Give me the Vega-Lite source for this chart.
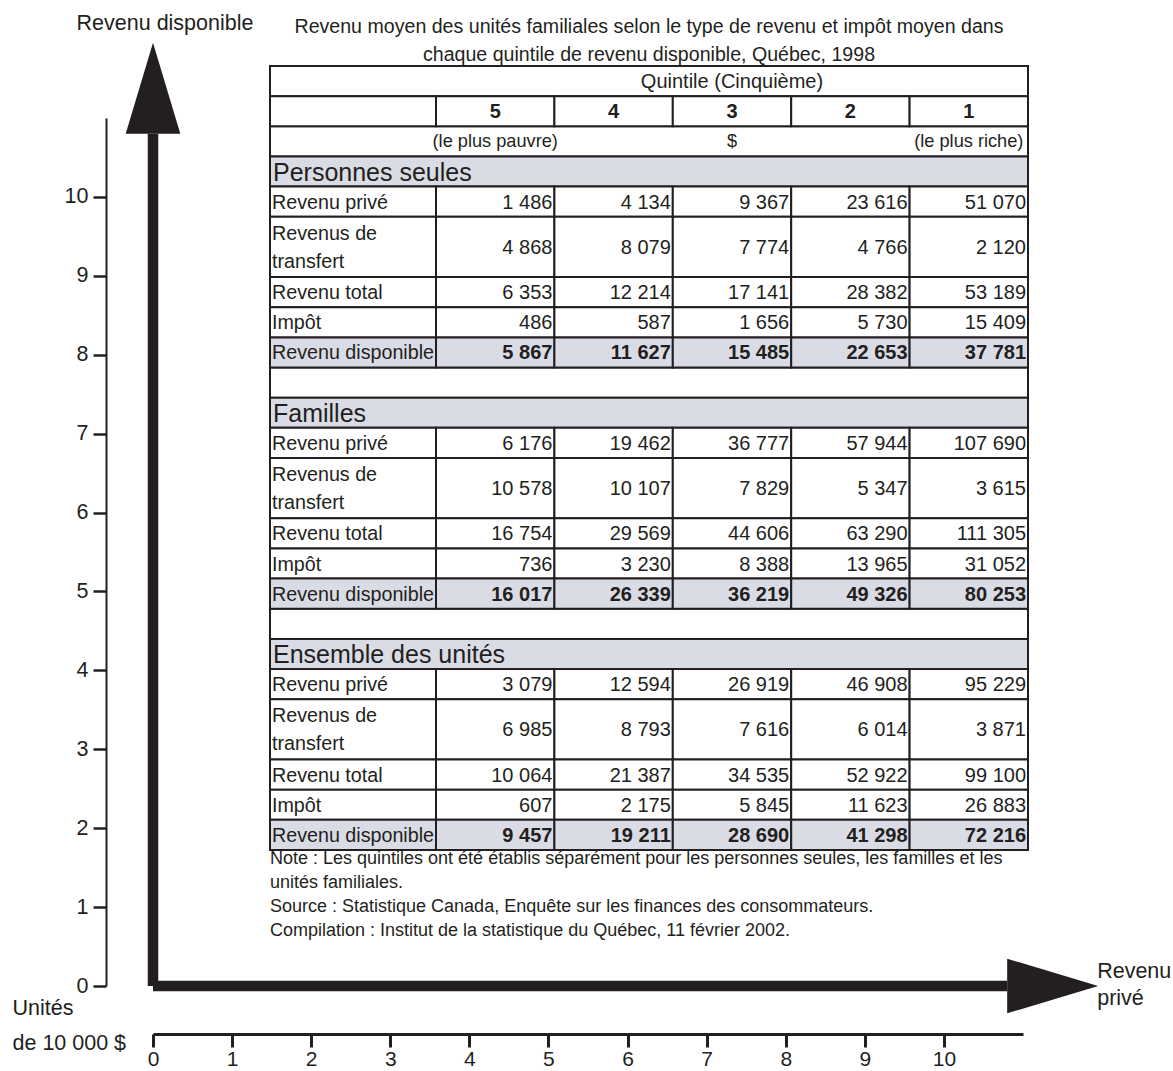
{
  "$schema": "https://vega.github.io/schema/vega-lite/v6.json",
  "width": 870,
  "height": 868,
  "autosize": "none",
  "padding": {"left": 153, "top": 118, "right": 150, "bottom": 85},
  "background": "white",
  "config": {
    "view": {"stroke": null},
    "locale": {"number": {"decimal": ",", "thousands": "\u00a0", "grouping": [3], "currency": ["", "\u00a0$"]}},
    "text": {"font": "Liberation Sans", "fontSize": 20, "color": "#231f20"}
  },
  "datasets": {
    "fleches": [
      {"axe": "Revenu disponible", "x": 0, "y": 0, "x2": 0, "y2": 10.8},
      {"axe": "Revenu privé", "x": 0, "y": 0, "x2": 10.8, "y2": 0}
    ],
    "titre": [
      {"titre": ["Revenu moyen des unités familiales selon le type de revenu et impôt moyen dans", "chaque quintile de revenu disponible, Québec, 1998"]}
    ],
    "notes": [
      {"notes": ["Note : Les quintiles ont été établis séparément pour les personnes seules, les familles et les", "unités familiales.", "Source : Statistique Canada, Enquête sur les finances des consommateurs.", "Compilation : Institut de la statistique du Québec, 11 février 2002."]}
    ],
    "bandeaux": [
      {"l": 0}, {"l": 2},
      {"l": 3, "sec": "Personnes seules"},
      {"l": 10},
      {"l": 11, "sec": "Familles"},
      {"l": 18},
      {"l": 19, "sec": "Ensemble des unités"}
    ],
    "entetes": [
      {"l": 0, "q": "3", "texte": "Quintile (Cinquième)"},
      {"l": 1, "q": "5", "texte": "5"},
      {"l": 1, "q": "4", "texte": "4"},
      {"l": 1, "q": "3", "texte": "3"},
      {"l": 1, "q": "2", "texte": "2"},
      {"l": 1, "q": "1", "texte": "1"},
      {"l": 2, "q": "5", "texte": "(le plus pauvre)"},
      {"l": 2, "q": "3", "texte": "$"},
      {"l": 2, "q": "1", "texte": "(le plus riche)"}
    ],
    "libelles": [
      {"l": 1, "l2": 1},
      {"sec": "Personnes seules", "item": "Revenu privé", "l": 4, "l2": 4},
      {"sec": "Personnes seules", "item": "Revenus de transfert", "l": 5, "l2": 6},
      {"sec": "Personnes seules", "item": "Revenu total", "l": 7, "l2": 7},
      {"sec": "Personnes seules", "item": "Impôt", "l": 8, "l2": 8},
      {"sec": "Personnes seules", "item": "Revenu disponible", "l": 9, "l2": 9},
      {"sec": "Familles", "item": "Revenu privé", "l": 12, "l2": 12},
      {"sec": "Familles", "item": "Revenus de transfert", "l": 13, "l2": 14},
      {"sec": "Familles", "item": "Revenu total", "l": 15, "l2": 15},
      {"sec": "Familles", "item": "Impôt", "l": 16, "l2": 16},
      {"sec": "Familles", "item": "Revenu disponible", "l": 17, "l2": 17},
      {"sec": "Ensemble des unités", "item": "Revenu privé", "l": 20, "l2": 20},
      {"sec": "Ensemble des unités", "item": "Revenus de transfert", "l": 21, "l2": 22},
      {"sec": "Ensemble des unités", "item": "Revenu total", "l": 23, "l2": 23},
      {"sec": "Ensemble des unités", "item": "Impôt", "l": 24, "l2": 24},
      {"sec": "Ensemble des unités", "item": "Revenu disponible", "l": 25, "l2": 25}
    ],
    "valeurs": [
      {"sec": "Personnes seules", "item": "Revenu privé", "q": "5", "v": 1486, "l": 4, "l2": 4},
      {"sec": "Personnes seules", "item": "Revenu privé", "q": "4", "v": 4134, "l": 4, "l2": 4},
      {"sec": "Personnes seules", "item": "Revenu privé", "q": "3", "v": 9367, "l": 4, "l2": 4},
      {"sec": "Personnes seules", "item": "Revenu privé", "q": "2", "v": 23616, "l": 4, "l2": 4},
      {"sec": "Personnes seules", "item": "Revenu privé", "q": "1", "v": 51070, "l": 4, "l2": 4},
      {"sec": "Personnes seules", "item": "Revenus de transfert", "q": "5", "v": 4868, "l": 5, "l2": 6},
      {"sec": "Personnes seules", "item": "Revenus de transfert", "q": "4", "v": 8079, "l": 5, "l2": 6},
      {"sec": "Personnes seules", "item": "Revenus de transfert", "q": "3", "v": 7774, "l": 5, "l2": 6},
      {"sec": "Personnes seules", "item": "Revenus de transfert", "q": "2", "v": 4766, "l": 5, "l2": 6},
      {"sec": "Personnes seules", "item": "Revenus de transfert", "q": "1", "v": 2120, "l": 5, "l2": 6},
      {"sec": "Personnes seules", "item": "Revenu total", "q": "5", "v": 6353, "l": 7, "l2": 7},
      {"sec": "Personnes seules", "item": "Revenu total", "q": "4", "v": 12214, "l": 7, "l2": 7},
      {"sec": "Personnes seules", "item": "Revenu total", "q": "3", "v": 17141, "l": 7, "l2": 7},
      {"sec": "Personnes seules", "item": "Revenu total", "q": "2", "v": 28382, "l": 7, "l2": 7},
      {"sec": "Personnes seules", "item": "Revenu total", "q": "1", "v": 53189, "l": 7, "l2": 7},
      {"sec": "Personnes seules", "item": "Impôt", "q": "5", "v": 486, "l": 8, "l2": 8},
      {"sec": "Personnes seules", "item": "Impôt", "q": "4", "v": 587, "l": 8, "l2": 8},
      {"sec": "Personnes seules", "item": "Impôt", "q": "3", "v": 1656, "l": 8, "l2": 8},
      {"sec": "Personnes seules", "item": "Impôt", "q": "2", "v": 5730, "l": 8, "l2": 8},
      {"sec": "Personnes seules", "item": "Impôt", "q": "1", "v": 15409, "l": 8, "l2": 8},
      {"sec": "Personnes seules", "item": "Revenu disponible", "q": "5", "v": 5867, "l": 9, "l2": 9},
      {"sec": "Personnes seules", "item": "Revenu disponible", "q": "4", "v": 11627, "l": 9, "l2": 9},
      {"sec": "Personnes seules", "item": "Revenu disponible", "q": "3", "v": 15485, "l": 9, "l2": 9},
      {"sec": "Personnes seules", "item": "Revenu disponible", "q": "2", "v": 22653, "l": 9, "l2": 9},
      {"sec": "Personnes seules", "item": "Revenu disponible", "q": "1", "v": 37781, "l": 9, "l2": 9},
      {"sec": "Familles", "item": "Revenu privé", "q": "5", "v": 6176, "l": 12, "l2": 12},
      {"sec": "Familles", "item": "Revenu privé", "q": "4", "v": 19462, "l": 12, "l2": 12},
      {"sec": "Familles", "item": "Revenu privé", "q": "3", "v": 36777, "l": 12, "l2": 12},
      {"sec": "Familles", "item": "Revenu privé", "q": "2", "v": 57944, "l": 12, "l2": 12},
      {"sec": "Familles", "item": "Revenu privé", "q": "1", "v": 107690, "l": 12, "l2": 12},
      {"sec": "Familles", "item": "Revenus de transfert", "q": "5", "v": 10578, "l": 13, "l2": 14},
      {"sec": "Familles", "item": "Revenus de transfert", "q": "4", "v": 10107, "l": 13, "l2": 14},
      {"sec": "Familles", "item": "Revenus de transfert", "q": "3", "v": 7829, "l": 13, "l2": 14},
      {"sec": "Familles", "item": "Revenus de transfert", "q": "2", "v": 5347, "l": 13, "l2": 14},
      {"sec": "Familles", "item": "Revenus de transfert", "q": "1", "v": 3615, "l": 13, "l2": 14},
      {"sec": "Familles", "item": "Revenu total", "q": "5", "v": 16754, "l": 15, "l2": 15},
      {"sec": "Familles", "item": "Revenu total", "q": "4", "v": 29569, "l": 15, "l2": 15},
      {"sec": "Familles", "item": "Revenu total", "q": "3", "v": 44606, "l": 15, "l2": 15},
      {"sec": "Familles", "item": "Revenu total", "q": "2", "v": 63290, "l": 15, "l2": 15},
      {"sec": "Familles", "item": "Revenu total", "q": "1", "v": 111305, "l": 15, "l2": 15},
      {"sec": "Familles", "item": "Impôt", "q": "5", "v": 736, "l": 16, "l2": 16},
      {"sec": "Familles", "item": "Impôt", "q": "4", "v": 3230, "l": 16, "l2": 16},
      {"sec": "Familles", "item": "Impôt", "q": "3", "v": 8388, "l": 16, "l2": 16},
      {"sec": "Familles", "item": "Impôt", "q": "2", "v": 13965, "l": 16, "l2": 16},
      {"sec": "Familles", "item": "Impôt", "q": "1", "v": 31052, "l": 16, "l2": 16},
      {"sec": "Familles", "item": "Revenu disponible", "q": "5", "v": 16017, "l": 17, "l2": 17},
      {"sec": "Familles", "item": "Revenu disponible", "q": "4", "v": 26339, "l": 17, "l2": 17},
      {"sec": "Familles", "item": "Revenu disponible", "q": "3", "v": 36219, "l": 17, "l2": 17},
      {"sec": "Familles", "item": "Revenu disponible", "q": "2", "v": 49326, "l": 17, "l2": 17},
      {"sec": "Familles", "item": "Revenu disponible", "q": "1", "v": 80253, "l": 17, "l2": 17},
      {"sec": "Ensemble des unités", "item": "Revenu privé", "q": "5", "v": 3079, "l": 20, "l2": 20},
      {"sec": "Ensemble des unités", "item": "Revenu privé", "q": "4", "v": 12594, "l": 20, "l2": 20},
      {"sec": "Ensemble des unités", "item": "Revenu privé", "q": "3", "v": 26919, "l": 20, "l2": 20},
      {"sec": "Ensemble des unités", "item": "Revenu privé", "q": "2", "v": 46908, "l": 20, "l2": 20},
      {"sec": "Ensemble des unités", "item": "Revenu privé", "q": "1", "v": 95229, "l": 20, "l2": 20},
      {"sec": "Ensemble des unités", "item": "Revenus de transfert", "q": "5", "v": 6985, "l": 21, "l2": 22},
      {"sec": "Ensemble des unités", "item": "Revenus de transfert", "q": "4", "v": 8793, "l": 21, "l2": 22},
      {"sec": "Ensemble des unités", "item": "Revenus de transfert", "q": "3", "v": 7616, "l": 21, "l2": 22},
      {"sec": "Ensemble des unités", "item": "Revenus de transfert", "q": "2", "v": 6014, "l": 21, "l2": 22},
      {"sec": "Ensemble des unités", "item": "Revenus de transfert", "q": "1", "v": 3871, "l": 21, "l2": 22},
      {"sec": "Ensemble des unités", "item": "Revenu total", "q": "5", "v": 10064, "l": 23, "l2": 23},
      {"sec": "Ensemble des unités", "item": "Revenu total", "q": "4", "v": 21387, "l": 23, "l2": 23},
      {"sec": "Ensemble des unités", "item": "Revenu total", "q": "3", "v": 34535, "l": 23, "l2": 23},
      {"sec": "Ensemble des unités", "item": "Revenu total", "q": "2", "v": 52922, "l": 23, "l2": 23},
      {"sec": "Ensemble des unités", "item": "Revenu total", "q": "1", "v": 99100, "l": 23, "l2": 23},
      {"sec": "Ensemble des unités", "item": "Impôt", "q": "5", "v": 607, "l": 24, "l2": 24},
      {"sec": "Ensemble des unités", "item": "Impôt", "q": "4", "v": 2175, "l": 24, "l2": 24},
      {"sec": "Ensemble des unités", "item": "Impôt", "q": "3", "v": 5845, "l": 24, "l2": 24},
      {"sec": "Ensemble des unités", "item": "Impôt", "q": "2", "v": 11623, "l": 24, "l2": 24},
      {"sec": "Ensemble des unités", "item": "Impôt", "q": "1", "v": 26883, "l": 24, "l2": 24},
      {"sec": "Ensemble des unités", "item": "Revenu disponible", "q": "5", "v": 9457, "l": 25, "l2": 25},
      {"sec": "Ensemble des unités", "item": "Revenu disponible", "q": "4", "v": 19211, "l": 25, "l2": 25},
      {"sec": "Ensemble des unités", "item": "Revenu disponible", "q": "3", "v": 28690, "l": 25, "l2": 25},
      {"sec": "Ensemble des unités", "item": "Revenu disponible", "q": "2", "v": 41298, "l": 25, "l2": 25},
      {"sec": "Ensemble des unités", "item": "Revenu disponible", "q": "1", "v": 72216, "l": 25, "l2": 25}
    ]
  },
  "resolve": {"scale": {"x": "independent", "y": "independent", "shape": "independent", "size": "independent"}},
  "layer": [
    {
      "data": {"name": "fleches"},
      "mark": {"type": "rule", "strokeWidth": 10.5, "color": "#231f20", "strokeCap": "butt"},
      "encoding": {
        "x": {"field": "x", "type": "quantitative", "scale": {"domain": [0, 11], "nice": false, "zero": false},
          "axis": {"orient": "bottom", "offset": 48, "values": [0, 1, 2, 3, 4, 5, 6, 7, 8, 9, 10], "format": "d", "grid": false,
            "domainColor": "#231f20", "domainWidth": 3, "tickColor": "#231f20", "tickWidth": 3, "tickSize": 13,
            "labelFont": "Liberation Sans", "labelFontSize": 21, "labelColor": "#231f20", "labelPadding": 1, "labelAngle": 0, "labelFlush": false, "labelOverlap": false,
            "title": ["Unités", "de 10 000 $"], "titleFont": "Liberation Sans", "titleFontSize": 21.5, "titleFontWeight": "normal", "titleColor": "#231f20",
            "titleAngle": 0, "titleAlign": "left", "titleBaseline": "alphabetic", "titleX": -141, "titleY": -20, "titleLineHeight": 35}},
        "y": {"field": "y", "type": "quantitative", "scale": {"domain": [0, 11], "nice": false, "zero": false},
          "axis": {"orient": "left", "offset": 47, "values": [0, 1, 2, 3, 4, 5, 6, 7, 8, 9, 10], "format": "d", "grid": false,
            "domainColor": "#231f20", "domainWidth": 2, "tickColor": "#231f20", "tickWidth": 2.5, "tickSize": 13,
            "labelFont": "Liberation Sans", "labelFontSize": 21.5, "labelColor": "#231f20", "labelPadding": 5, "title": null}},
        "x2": {"field": "x2"},
        "y2": {"field": "y2"}
      }
    },
    {
      "data": {"name": "fleches"},
      "mark": {"type": "point", "filled": true, "opacity": 1, "size": 8281, "color": "#231f20", "strokeWidth": 0},
      "encoding": {
        "x": {"field": "x2", "type": "quantitative", "scale": {"domain": [0, 11], "nice": false, "zero": false}, "axis": null},
        "y": {"field": "y2", "type": "quantitative", "scale": {"domain": [0, 11], "nice": false, "zero": false}, "axis": null},
        "shape": {"field": "axe", "type": "nominal", "scale": {"domain": ["Revenu disponible", "Revenu privé"], "range": ["M0,-2L0.6,0L-0.6,0Z", "M2,0L0,-0.6L0,0.6Z"]}, "legend": null}
      }
    },
    {
      "data": {"name": "fleches"},
      "transform": [{"filter": "datum.axe === 'Revenu disponible'"}],
      "mark": {"type": "text", "font": "Liberation Sans", "fontSize": 21.5, "align": "center", "baseline": "alphabetic", "dx": 12, "dy": -104},
      "encoding": {
        "x": {"field": "x2", "type": "quantitative", "scale": {"domain": [0, 11], "nice": false, "zero": false}, "axis": null},
        "y": {"field": "y2", "type": "quantitative", "scale": {"domain": [0, 11], "nice": false, "zero": false}, "axis": null},
        "text": {"field": "axe"}
      }
    },
    {
      "data": {"name": "fleches"},
      "transform": [{"filter": "datum.axe === 'Revenu privé'"}],
      "mark": {"type": "text", "font": "Liberation Sans", "fontSize": 21.5, "align": "left", "baseline": "alphabetic", "dx": 90, "dy": -8, "lineBreak": " ", "lineHeight": 27},
      "encoding": {
        "x": {"field": "x2", "type": "quantitative", "scale": {"domain": [0, 11], "nice": false, "zero": false}, "axis": null},
        "y": {"field": "y2", "type": "quantitative", "scale": {"domain": [0, 11], "nice": false, "zero": false}, "axis": null},
        "text": {"field": "axe"}
      }
    },
    {
      "data": {"name": "bandeaux"},
      "mark": {"type": "rect", "stroke": "#231f20", "strokeWidth": 2},
      "encoding": {
        "x": {"datum": "Tableau", "type": "nominal", "scale": {"type": "band", "domain": ["Tableau"], "range": [117, 875], "paddingInner": 0, "paddingOuter": 0}, "axis": null},
        "y": {"field": "l", "type": "ordinal", "scale": {"type": "band", "domain": [0,1,2,3,4,5,6,7,8,9,10,11,12,13,14,15,16,17,18,19,20,21,22,23,24,25], "range": [-52, 732], "paddingInner": 0, "paddingOuter": 0}, "axis": null},
        "fill": {"condition": {"test": "isValid(datum.sec)", "value": "#d9dce4"}, "value": "white"}
      }
    },
    {
      "data": {"name": "libelles"},
      "mark": {"type": "rect", "stroke": "#231f20", "strokeWidth": 2},
      "encoding": {
        "x": {"datum": "Type de revenu", "type": "nominal", "scale": {"type": "band", "domain": ["Type de revenu"], "range": [117, 283], "paddingInner": 0, "paddingOuter": 0}, "axis": null},
        "y": {"field": "l", "type": "ordinal", "bandPosition": 0, "scale": {"type": "band", "domain": [0,1,2,3,4,5,6,7,8,9,10,11,12,13,14,15,16,17,18,19,20,21,22,23,24,25], "range": [-52, 732], "paddingInner": 0, "paddingOuter": 0}, "axis": null},
        "y2": {"field": "l2", "bandPosition": 1},
        "fill": {"condition": {"test": "datum.item === 'Revenu disponible'", "value": "#d9dce4"}, "value": "white"}
      }
    },
    {
      "data": {"name": "valeurs"},
      "mark": {"type": "rect", "stroke": "#231f20", "strokeWidth": 2},
      "encoding": {
        "x": {"field": "q", "type": "nominal", "scale": {"type": "band", "domain": ["5", "4", "3", "2", "1"], "range": [283, 875], "paddingInner": 0, "paddingOuter": 0}, "axis": null},
        "y": {"field": "l", "type": "ordinal", "bandPosition": 0, "scale": {"type": "band", "domain": [0,1,2,3,4,5,6,7,8,9,10,11,12,13,14,15,16,17,18,19,20,21,22,23,24,25], "range": [-52, 732], "paddingInner": 0, "paddingOuter": 0}, "axis": null},
        "y2": {"field": "l2", "bandPosition": 1},
        "fill": {"condition": {"test": "datum.item === 'Revenu disponible'", "value": "#d9dce4"}, "value": "white"}
      }
    },
    {
      "data": {"name": "entetes"},
      "transform": [{"filter": "datum.l === 1"}],
      "mark": {"type": "rect", "stroke": "#231f20", "strokeWidth": 2, "fill": "white"},
      "encoding": {
        "x": {"field": "q", "type": "nominal", "scale": {"type": "band", "domain": ["5", "4", "3", "2", "1"], "range": [283, 875], "paddingInner": 0, "paddingOuter": 0}, "axis": null},
        "y": {"field": "l", "type": "ordinal", "scale": {"type": "band", "domain": [0,1,2,3,4,5,6,7,8,9,10,11,12,13,14,15,16,17,18,19,20,21,22,23,24,25], "range": [-52, 732], "paddingInner": 0, "paddingOuter": 0}, "axis": null}
      }
    },
    {
      "data": {"name": "bandeaux"},
      "transform": [{"filter": "isValid(datum.sec)"}],
      "mark": {"type": "text", "fontSize": 25, "align": "left", "baseline": "middle", "dx": 3, "dy": 1},
      "encoding": {
        "x": {"datum": "Tableau", "type": "nominal", "bandPosition": 0, "scale": {"type": "band", "domain": ["Tableau"], "range": [117, 875], "paddingInner": 0, "paddingOuter": 0}, "axis": null},
        "y": {"field": "l", "type": "ordinal", "scale": {"type": "band", "domain": [0,1,2,3,4,5,6,7,8,9,10,11,12,13,14,15,16,17,18,19,20,21,22,23,24,25], "range": [-52, 732], "paddingInner": 0, "paddingOuter": 0}, "axis": null},
        "text": {"field": "sec"}
      }
    },
    {
      "data": {"name": "titre"},
      "mark": {"type": "text", "fontSize": 19.6, "align": "center", "baseline": "alphabetic", "dy": -33, "lineHeight": 28},
      "encoding": {
        "x": {"datum": "Tableau", "type": "nominal", "scale": {"type": "band", "domain": ["Tableau"], "range": [117, 875], "paddingInner": 0, "paddingOuter": 0}, "axis": null},
        "y": {"datum": 0, "type": "ordinal", "bandPosition": 0, "scale": {"type": "band", "domain": [0,1,2,3,4,5,6,7,8,9,10,11,12,13,14,15,16,17,18,19,20,21,22,23,24,25], "range": [-52, 732], "paddingInner": 0, "paddingOuter": 0}, "axis": null},
        "text": {"field": "titre"}
      }
    },
    {
      "data": {"name": "notes"},
      "mark": {"type": "text", "fontSize": 18, "align": "left", "baseline": "alphabetic", "dx": 0, "dy": 14, "lineHeight": 24},
      "encoding": {
        "x": {"datum": "Tableau", "type": "nominal", "bandPosition": 0, "scale": {"type": "band", "domain": ["Tableau"], "range": [117, 875], "paddingInner": 0, "paddingOuter": 0}, "axis": null},
        "y": {"datum": 25, "type": "ordinal", "bandPosition": 1, "scale": {"type": "band", "domain": [0,1,2,3,4,5,6,7,8,9,10,11,12,13,14,15,16,17,18,19,20,21,22,23,24,25], "range": [-52, 732], "paddingInner": 0, "paddingOuter": 0}, "axis": null},
        "text": {"field": "notes"}
      }
    },
    {
      "data": {"name": "libelles"},
      "transform": [{"filter": "isValid(datum.item) && datum.item !== 'Revenus de transfert'"}],
      "mark": {"type": "text", "fontSize": 19.7, "align": "left", "baseline": "middle", "dx": 2, "dy": 1},
      "encoding": {
        "x": {"datum": "Type de revenu", "type": "nominal", "bandPosition": 0, "scale": {"type": "band", "domain": ["Type de revenu"], "range": [117, 283], "paddingInner": 0, "paddingOuter": 0}, "axis": null},
        "y": {"field": "l", "type": "ordinal", "scale": {"type": "band", "domain": [0,1,2,3,4,5,6,7,8,9,10,11,12,13,14,15,16,17,18,19,20,21,22,23,24,25], "range": [-52, 732], "paddingInner": 0, "paddingOuter": 0}, "axis": null},
        "text": {"field": "item"}
      }
    },
    {
      "data": {"name": "libelles"},
      "transform": [{"filter": "datum.item === 'Revenus de transfert'"}],
      "mark": {"type": "text", "fontSize": 19.7, "align": "left", "baseline": "middle", "dx": 2, "dy": -13, "lineHeight": 28, "lineBreak": {"expr": "regexp('(?<=de) ')"}},
      "encoding": {
        "x": {"datum": "Type de revenu", "type": "nominal", "bandPosition": 0, "scale": {"type": "band", "domain": ["Type de revenu"], "range": [117, 283], "paddingInner": 0, "paddingOuter": 0}, "axis": null},
        "y": {"field": "l", "type": "ordinal", "bandPosition": 1, "scale": {"type": "band", "domain": [0,1,2,3,4,5,6,7,8,9,10,11,12,13,14,15,16,17,18,19,20,21,22,23,24,25], "range": [-52, 732], "paddingInner": 0, "paddingOuter": 0}, "axis": null},
        "text": {"field": "item"}
      }
    },
    {
      "data": {"name": "entetes"},
      "transform": [{"filter": "datum.l !== 1"}],
      "mark": {"type": "text", "align": "center", "baseline": "middle", "dy": 1},
      "encoding": {
        "x": {"field": "q", "type": "nominal", "scale": {"type": "band", "domain": ["5", "4", "3", "2", "1"], "range": [283, 875], "paddingInner": 0, "paddingOuter": 0}, "axis": null},
        "y": {"field": "l", "type": "ordinal", "scale": {"type": "band", "domain": [0,1,2,3,4,5,6,7,8,9,10,11,12,13,14,15,16,17,18,19,20,21,22,23,24,25], "range": [-52, 732], "paddingInner": 0, "paddingOuter": 0}, "axis": null},
        "text": {"field": "texte"},
        "size": {"condition": {"test": "datum.l === 2", "value": 18.2}, "value": 20}
      }
    },
    {
      "data": {"name": "entetes"},
      "transform": [{"filter": "datum.l === 1"}],
      "mark": {"type": "text", "align": "center", "baseline": "middle", "dy": 1, "fontWeight": "bold"},
      "encoding": {
        "x": {"field": "q", "type": "nominal", "scale": {"type": "band", "domain": ["5", "4", "3", "2", "1"], "range": [283, 875], "paddingInner": 0, "paddingOuter": 0}, "axis": null},
        "y": {"field": "l", "type": "ordinal", "scale": {"type": "band", "domain": [0,1,2,3,4,5,6,7,8,9,10,11,12,13,14,15,16,17,18,19,20,21,22,23,24,25], "range": [-52, 732], "paddingInner": 0, "paddingOuter": 0}, "axis": null},
        "text": {"field": "texte"}
      }
    },
    {
      "data": {"name": "valeurs"},
      "transform": [{"filter": "datum.item !== 'Revenus de transfert' && datum.item !== 'Revenu disponible'"}],
      "mark": {"type": "text", "align": "right", "baseline": "middle", "dx": -2, "dy": 1},
      "encoding": {
        "x": {"field": "q", "type": "nominal", "bandPosition": 1, "scale": {"type": "band", "domain": ["5", "4", "3", "2", "1"], "range": [283, 875], "paddingInner": 0, "paddingOuter": 0}, "axis": null},
        "y": {"field": "l", "type": "ordinal", "scale": {"type": "band", "domain": [0,1,2,3,4,5,6,7,8,9,10,11,12,13,14,15,16,17,18,19,20,21,22,23,24,25], "range": [-52, 732], "paddingInner": 0, "paddingOuter": 0}, "axis": null},
        "text": {"field": "v", "type": "quantitative", "format": ",d"}
      }
    },
    {
      "data": {"name": "valeurs"},
      "transform": [{"filter": "datum.item === 'Revenu disponible'"}],
      "mark": {"type": "text", "align": "right", "baseline": "middle", "dx": -2, "dy": 1, "fontWeight": "bold"},
      "encoding": {
        "x": {"field": "q", "type": "nominal", "bandPosition": 1, "scale": {"type": "band", "domain": ["5", "4", "3", "2", "1"], "range": [283, 875], "paddingInner": 0, "paddingOuter": 0}, "axis": null},
        "y": {"field": "l", "type": "ordinal", "scale": {"type": "band", "domain": [0,1,2,3,4,5,6,7,8,9,10,11,12,13,14,15,16,17,18,19,20,21,22,23,24,25], "range": [-52, 732], "paddingInner": 0, "paddingOuter": 0}, "axis": null},
        "text": {"field": "v", "type": "quantitative", "format": ",d"}
      }
    },
    {
      "data": {"name": "valeurs"},
      "transform": [{"filter": "datum.item === 'Revenus de transfert'"}],
      "mark": {"type": "text", "align": "right", "baseline": "middle", "dx": -2, "dy": 1},
      "encoding": {
        "x": {"field": "q", "type": "nominal", "bandPosition": 1, "scale": {"type": "band", "domain": ["5", "4", "3", "2", "1"], "range": [283, 875], "paddingInner": 0, "paddingOuter": 0}, "axis": null},
        "y": {"field": "l", "type": "ordinal", "bandPosition": 1, "scale": {"type": "band", "domain": [0,1,2,3,4,5,6,7,8,9,10,11,12,13,14,15,16,17,18,19,20,21,22,23,24,25], "range": [-52, 732], "paddingInner": 0, "paddingOuter": 0}, "axis": null},
        "text": {"field": "v", "type": "quantitative", "format": ",d"}
      }
    }
  ]
}
